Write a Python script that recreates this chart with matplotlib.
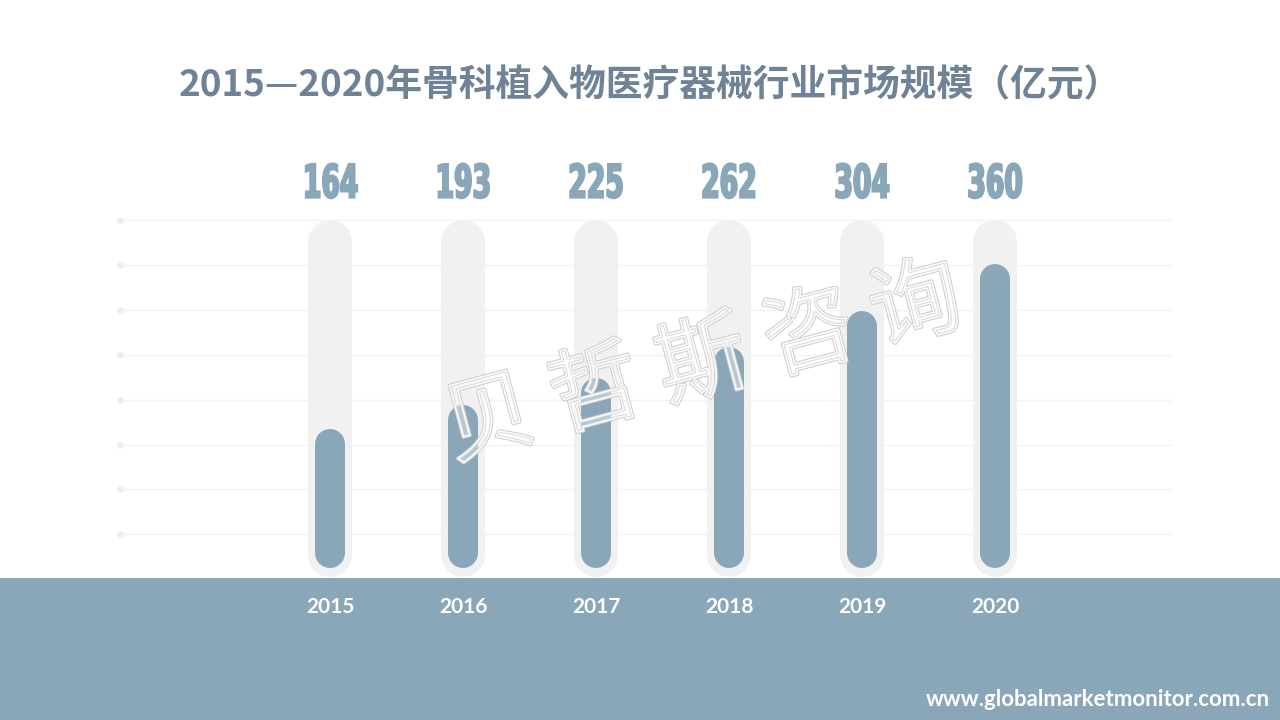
import matplotlib
matplotlib.use("Agg")
import matplotlib.pyplot as plt
import matplotlib.patheffects as pe
from matplotlib.patches import Rectangle
from matplotlib.transforms import Affine2D, blended_transform_factory

plt.rcParams['font.family'] = ['Noto Sans CJK SC', 'DejaVu Sans']

# data
years = ['2015', '2016', '2017', '2018', '2019', '2020']
market_size = [164, 193, 225, 262, 304, 360]

title = '2015—2020年骨科植入物医疗器械行业市场规模（亿元）'
watermark = '贝 哲 斯 咨 询'
site = 'www.globalmarketmonitor.com.cn'

BAR_COLOR = '#8AA6B9'
TRACK_COLOR = '#F1F1F1'
TITLE_COLOR = '#6F8296'
YMAX = 412  # top of the tracks in value units


class Squeeze(pe.AbstractPathEffect):
    '''Narrow (and fatten) the glyphs around their centre, no condensed font here.'''

    def __init__(self, sx, lw=0):
        super().__init__()
        self.sx = sx
        self.lw = lw

    def draw_path(self, renderer, gc, tpath, affine, rgbFace=None):
        ext = tpath.get_extents(affine)
        cx = (ext.x0 + ext.x1) / 2
        squeeze = Affine2D().translate(-cx, 0).scale(self.sx, 1).translate(cx, 0)
        gc0 = renderer.new_gc()
        gc0.copy_properties(gc)
        if self.lw and rgbFace is not None:
            gc0.set_linewidth(self.lw)
            gc0.set_foreground(rgbFace)
            gc0.set_joinstyle('miter')
        renderer.draw_path(gc0, tpath, affine + squeeze, rgbFace)
        gc0.restore()


fig = plt.figure(figsize=(12.8, 7.2), dpi=100)

# background layer in pixel coords (band, faint guide lines)
bg = fig.add_axes([0, 0, 1, 1])
bg.set_xlim(0, 1280)
bg.set_ylim(720, 0)
bg.axis('off')
bg.add_patch(Rectangle((0, 578), 1280, 142, color=BAR_COLOR, zorder=5, lw=0))
for k in range(8):
    gy = 220 + k * 44.9
    bg.plot([120, 1170], [gy, gy], color='#F3F3F3', lw=1, zorder=0)
    bg.scatter([120], [gy], s=22, color='#EDEDED', zorder=1, lw=0)

# chart axes: value 0 sits at pixel 568 from top
ax = fig.add_axes([263.5 / 1280, 152 / 720, 798 / 1280, 348 / 720])
ax.set_xlim(-0.5, len(years) - 0.5)
ax.set_ylim(0, YMAX)
ax.axis('off')
ax.patch.set_alpha(0)

ppu = 348 / YMAX  # pixels per value unit
track_r = 22 / ppu
bar_r = 15 / ppu
for i, v in enumerate(market_size):
    ax.plot([i, i], [-9 / ppu + track_r, YMAX - track_r], color=TRACK_COLOR,
            lw=44 * 0.72, solid_capstyle='round', clip_on=False, zorder=1)
    ax.plot([i, i], [bar_r, v - bar_r], color=BAR_COLOR,
            lw=30 * 0.72, solid_capstyle='round', clip_on=False, zorder=2)

trans = blended_transform_factory(ax.transData, fig.transFigure)
for i, (yr, v) in enumerate(zip(years, market_size)):
    ax.text(i, 1 - 185 / 720, str(v), transform=trans, ha='center', va='center',
            fontsize=33, fontweight='bold', color=BAR_COLOR, family='DejaVu Sans',
            path_effects=[Squeeze(0.58, lw=1.6)])
    ax.text(i, 1 - 607 / 720, yr, transform=trans, ha='center', va='center',
            fontsize=15, fontweight='bold', color='white', family=['Lato', 'DejaVu Sans'],
            zorder=10)

fig.text(650 / 1280, 1 - 86 / 720, title, ha='center', va='center', fontsize=26.5,
         fontweight='bold', color=TITLE_COLOR)

fig.text(1270 / 1280, 1 - 700 / 720, site, ha='right', va='center', fontsize=16,
         fontweight='bold', color='white', family=['Lato', 'DejaVu Sans'], zorder=10)

wm = fig.text(703 / 1280, 1 - 365 / 720, watermark, ha='center', va='center',
              fontsize=65, rotation=15, color=(1, 1, 1, 0.15), zorder=20)
wm.set_path_effects([pe.Stroke(linewidth=2.6, foreground='#CFCFCF'),
                     pe.Stroke(linewidth=1.0, foreground='white'),
                     pe.Normal()])

fig.savefig('out.png', dpi=100)
